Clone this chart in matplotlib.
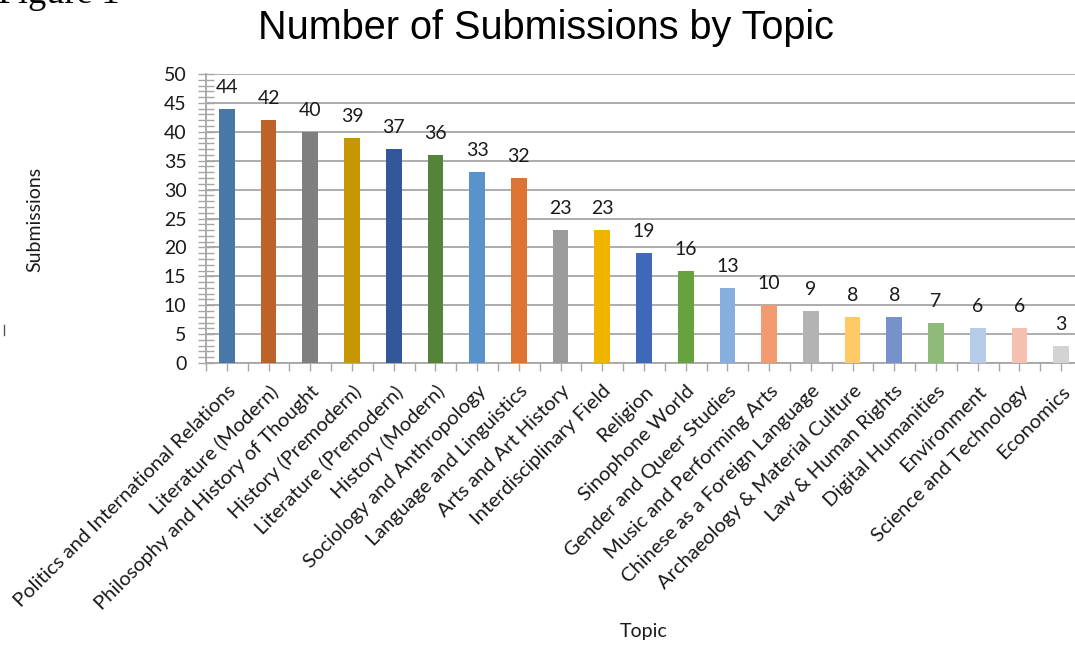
import numpy as np
import matplotlib.pyplot as plt
from matplotlib.lines import Line2D

# Daten
topics = [
    'Politics and International Relations', 'Literature (Modern)',
    'Philosophy and History of Thought', 'History (Premodern)',
    'Literature (Premodern)', 'History (Modern)', 'Sociology and Anthropology',
    'Language and Linguistics', 'Arts and Art History', 'Interdisciplinary Field',
    'Religion', 'Sinophone World', 'Gender and Queer Studies',
    'Music and Performing Arts', 'Chinese as a Foreign Language',
    'Archaeology & Material Culture', 'Law & Human Rights', 'Digital Humanities',
    'Environment', 'Science and Technology', 'Economics',
]
submissions = [44, 42, 40, 39, 37, 36, 33, 32, 23, 23, 19, 16, 13, 10, 9, 8, 8, 7, 6, 6, 3]
colors = [
    '#4878a8', '#bd6228', '#7f7f7f', '#c79600', '#33589a', '#548437',
    '#5993cb', '#df7430', '#9b9b9b', '#f0b400', '#3f69b8', '#68a140',
    '#86afe0', '#f19a70', '#b3b3b3', '#ffc966', '#7891cd', '#8fbb7a',
    '#b5cce9', '#f4c1b0', '#d3d3d3',
]

plt.rcParams['font.family'] = ['Lato', 'DejaVu Sans']
grid_col = '#a6a6a6'
txt_col = '#1a1a1a'

fig = plt.figure(figsize=(10.75, 6.46), dpi=100)
ax = fig.add_axes([206 / 1075, 1 - 363 / 646, 876 / 1075, 289 / 646])

x = np.arange(len(topics))
ax.bar(x, submissions, width=0.38, color=colors, zorder=3)

# Werte ueber den Balken
for xi, v in zip(x, submissions):
    ax.annotate(str(v), (xi, v), xytext=(0, 16), textcoords='offset pixels',
                ha='center', va='baseline', fontsize=14, color=txt_col)

ax.set_xlim(-0.5, len(topics) - 0.5)
ax.set_ylim(0, 50)
ax.set_yticks(np.arange(0, 51, 5))
ax.set_yticks(np.arange(0, 51, 1), minor=True)
ax.set_xticks(x)
ax.set_xticks(np.arange(-0.5, len(topics), 1), minor=True)
ax.set_xticklabels(topics, rotation=45, ha='right', rotation_mode='anchor')

ax.grid(axis='y', color=grid_col, linewidth=1.3, zorder=0)
ax.tick_params(axis='y', which='both', direction='inout', length=12, width=1,
               color=grid_col, labelsize=14, pad=8, labelcolor=txt_col)
ax.tick_params(axis='x', which='both', direction='out', length=6, width=1,
               color=grid_col, labelsize=14.5, pad=8, labelcolor=txt_col)

for s in ['top', 'right']:
    ax.spines[s].set_visible(False)
for s in ['left', 'bottom']:
    ax.spines[s].set_color(grid_col)
    ax.spines[s].set_linewidth(1.3)

fig.text(644 / 1075, 1 - 632 / 646, 'Topic', ha='center', va='center',
         fontsize=14, color=txt_col)
fig.text(35 / 1075, 1 - 219 / 646, 'Submissions', ha='center', va='center',
         rotation=90, fontsize=14, color=txt_col)
fig.text(546 / 1075, 1 - 28 / 646, 'Number of Submissions by Topic', ha='center',
         va='center', fontsize=28.5, family='Liberation Sans')
fig.text(-2 / 1075, 1 - 3 / 646, 'Figure 1', ha='left', va='baseline',
         fontsize=26, family='Liberation Serif')
fig.add_artist(Line2D([4 / 1075, 4 / 1075], [1 - 325 / 646, 1 - 335 / 646],
                      color='#555555', linewidth=1))

fig.savefig('out.png', dpi=100)
